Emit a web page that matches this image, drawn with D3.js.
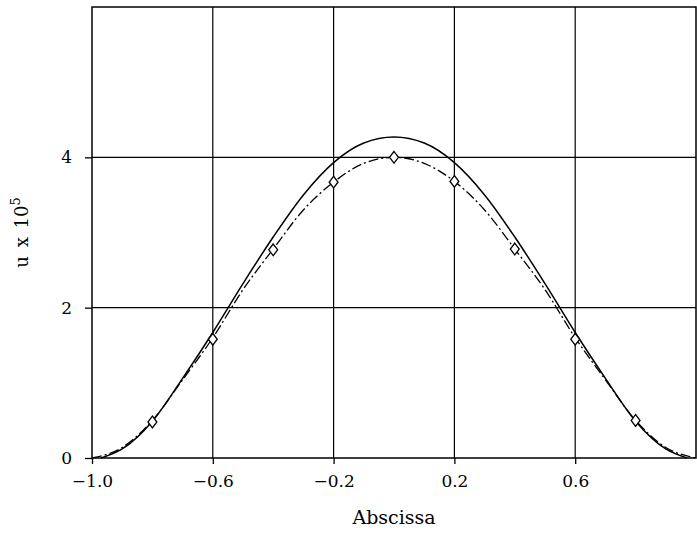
<!DOCTYPE html>
<html>
<head>
<meta charset="utf-8">
<script src="https://cdn.jsdelivr.net/npm/d3@7"></script>
<style>
  body { margin: 0; background: #fff; }
  svg { display: block; font-family: "DejaVu Serif", "Liberation Serif", serif; }
</style>
</head>
<body>
<svg></svg>
<script>
 // solid curve
 let solidX = [-0.97, -0.9, -0.8, -0.7, -0.6, -0.5, -0.4, -0.3, -0.2, -0.1, 0, 0.1, 0.2, 0.3, 0.4, 0.5, 0.6, 0.7, 0.8, 0.9, 0.97];
 let solidY = [0, 0.12, 0.49, 1.06, 1.67, 2.32, 2.94, 3.5, 3.93, 4.19, 4.27, 4.19, 3.93, 3.5, 2.94, 2.32, 1.67, 1.06, 0.49, 0.12, 0];

 // dash-dot curve
 let dashX = [-1.0, -0.9, -0.8, -0.7, -0.6, -0.5, -0.4, -0.3, -0.2, -0.1, 0, 0.1, 0.2, 0.3, 0.4, 0.5, 0.6, 0.7, 0.8, 0.9, 1.0];
 let dashY = [0, 0.14, 0.5, 1.04, 1.6, 2.24, 2.78, 3.3, 3.67, 3.92, 4.0, 3.92, 3.68, 3.3, 2.78, 2.24, 1.6, 1.04, 0.5, 0.14, 0];

 // diamond markers
 let markerX = [-0.8, -0.6, -0.4, -0.2, 0, 0.2, 0.4, 0.6, 0.8];
 let markerY = [0.48, 1.58, 2.77, 3.67, 4.0, 3.68, 2.78, 1.58, 0.5];

 let xTicks = [-1.0, -0.6, -0.2, 0.2, 0.6];
 let xTickLabels = ['\u22121.0', '\u22120.6', '\u22120.2', '0.2', '0.6'];
 let yTicks = [0, 2, 4];
 let yTickLabels = ['0', '2', '4'];

 let width = 697;
 let height = 533;
 let margin = {left: 92, right: 1, top: 7, bottom: 75};

 let svg = d3.select('svg').attr('width', width).attr('height', height);

 let xScale = d3.scaleLinear().domain([-1, 1]).range([margin.left, width - margin.right]);
 let yScale = d3.scaleLinear().domain([0, 6]).range([height - margin.bottom, margin.top]);

 let drawGrid = () => {
  svg.append('g').selectAll('line')
     .data(xTicks.slice(1))
     .enter().append('line')
     .attr('x1', d => xScale(d)).attr('x2', d => xScale(d))
     .attr('y1', yScale(0)).attr('y2', yScale(6))
     .attr('stroke', '#000').attr('stroke-width', 1.2);

  svg.append('g').selectAll('line')
     .data(yTicks.slice(1))
     .enter().append('line')
     .attr('x1', xScale(-1)).attr('x2', xScale(1))
     .attr('y1', d => yScale(d)).attr('y2', d => yScale(d))
     .attr('stroke', '#000').attr('stroke-width', 1.2);

  svg.append('rect')
     .attr('x', xScale(-1)).attr('y', yScale(6))
     .attr('width', xScale(1) - xScale(-1))
     .attr('height', yScale(0) - yScale(6))
     .attr('fill', 'none').attr('stroke', '#000').attr('stroke-width', 1.5);
 }

 let drawAxes = () => {
  let xAxis = d3.axisBottom(xScale)
                .tickValues(xTicks)
                .tickSize(6)
                .tickPadding(11)
                .tickFormat((d, i) => xTickLabels[i]);
  let gx = svg.append('g')
              .attr('transform', `translate(0, ${yScale(0)})`)
              .call(xAxis);

  let yAxis = d3.axisLeft(yScale)
                .tickValues(yTicks)
                .tickSize(7)
                .tickPadding(13)
                .tickFormat((d, i) => yTickLabels[i]);
  let gy = svg.append('g')
              .attr('transform', `translate(${xScale(-1)}, 0)`)
              .call(yAxis);

  [gx, gy].forEach(g => {
    g.select('.domain').remove();
    g.selectAll('line').attr('stroke', '#000').attr('stroke-width', 1.3);
    g.selectAll('text')
     .attr('fill', '#000')
     .style('font-family', '"DejaVu Serif", serif')
     .style('font-size', '17px');
  });

  svg.append('text')
     .attr('x', (xScale(-1) + xScale(1)) / 2)
     .attr('y', 524)
     .attr('text-anchor', 'middle')
     .style('font-size', '19px')
     .text('Abscissa');

  let yl = svg.append('text')
     .attr('transform', `translate(28, ${(yScale(0) + yScale(6)) / 2}) rotate(-90)`)
     .attr('text-anchor', 'middle')
     .style('font-size', '18px')
     .style('word-spacing', '3px');
  yl.append('tspan').text('u x 10');
  yl.append('tspan').attr('dy', -8).style('font-size', '13px').text('5');
 }

 let drawCurves = () => {
  let line = d3.line()
               .x(d => xScale(d[0]))
               .y(d => yScale(d[1]))
               .curve(d3.curveMonotoneX);

  svg.append('path')
     .datum(solidX.map((x, i) => [x, solidY[i]]))
     .attr('d', line)
     .attr('fill', 'none')
     .attr('stroke', '#000')
     .attr('stroke-width', 1.5);

  svg.append('path')
     .datum(dashX.map((x, i) => [x, dashY[i]]))
     .attr('d', line)
     .attr('fill', 'none')
     .attr('stroke', '#000')
     .attr('stroke-width', 1.3)
     .attr('stroke-dasharray', '10,3,2,3');

  let sym = d3.symbol().type(d3.symbolDiamond).size(40);
  svg.append('g').selectAll('path')
     .data(markerX.map((x, i) => [x, markerY[i]]))
     .enter().append('path')
     .attr('d', sym)
     .attr('transform', d => `translate(${xScale(d[0])}, ${yScale(d[1])}) scale(1.3, 1)`)
     .attr('fill', '#fff')
     .attr('stroke', '#000')
     .attr('stroke-width', 1.1);
 }

 drawGrid();
 drawAxes();
 drawCurves();
</script>
</body>
</html>
